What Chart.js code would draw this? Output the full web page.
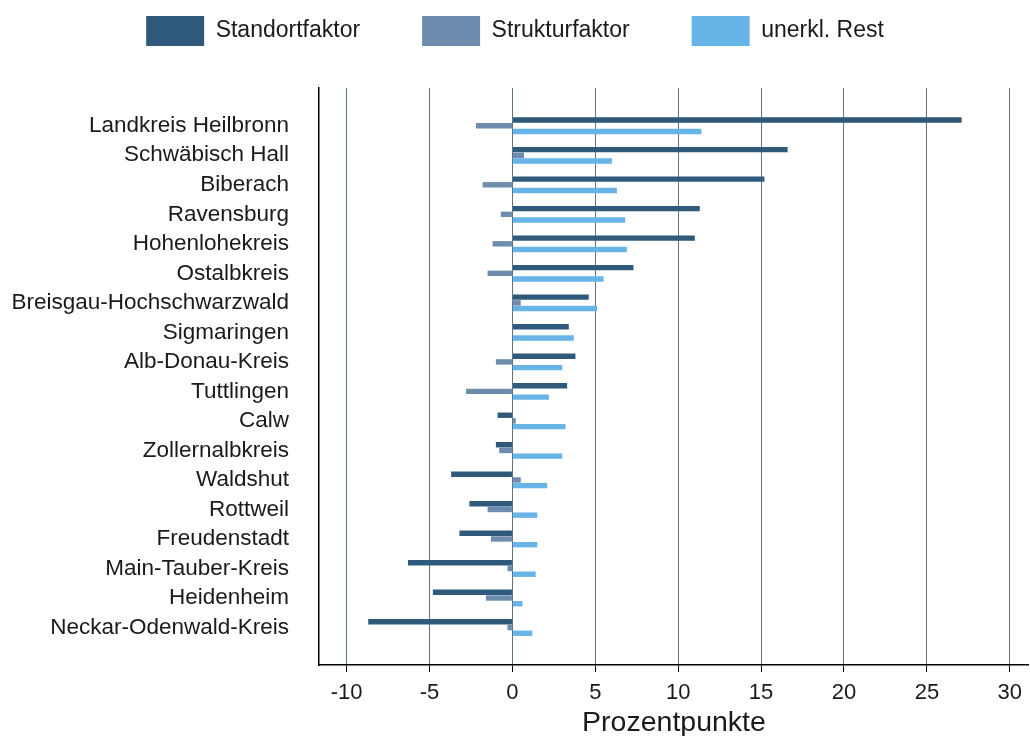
<!DOCTYPE html>
<html>
<head>
<meta charset="utf-8">
<script src="https://cdn.jsdelivr.net/npm/chart.js@4"></script>
<style>
    html, body { margin: 0; padding: 0; background: #fff; }
    #wrap { width: 1030px; height: 736px; }
</style>
</head>
<body>
<div id="wrap"><canvas id="factorChart" width="1030" height="736"></canvas></div>
<script>
// Kreise, von oben nach unten
const regions = [
    'Landkreis Heilbronn', 'Schwäbisch Hall', 'Biberach', 'Ravensburg', 'Hohenlohekreis',
    'Ostalbkreis', 'Breisgau-Hochschwarzwald', 'Sigmaringen', 'Alb-Donau-Kreis', 'Tuttlingen',
    'Calw', 'Zollernalbkreis', 'Waldshut', 'Rottweil', 'Freudenstadt',
    'Main-Tauber-Kreis', 'Heidenheim', 'Neckar-Odenwald-Kreis'
];
const standortfaktor = [27.1, 16.6, 15.2, 11.3, 11.0, 7.3, 4.6, 3.4, 3.8, 3.3, -0.9, -1.0, -3.7, -2.6, -3.2, -6.3, -4.8, -8.7];
const strukturfaktor = [-2.2, 0.7, -1.8, -0.7, -1.2, -1.5, 0.5, 0.0, -1.0, -2.8, 0.2, -0.8, 0.5, -1.5, -1.3, -0.3, -1.6, -0.3];
const unerklRest = [11.4, 6.0, 6.3, 6.8, 6.9, 5.5, 5.1, 3.7, 3.0, 2.2, 3.2, 3.0, 2.1, 1.5, 1.5, 1.4, 0.6, 1.2];
const xTicks = [-10, -5, 0, 5, 10, 15, 20, 25, 30];

const fontFamily = '"Liberation Sans", Arial, sans-serif';
const textColor = '#1a1a1a';

function toPoints(values) {
    return values.map((v, i) => ({x: v, y: i}));
}

// Abstand zwischen Legende und Diagramm
const legendGap = {
    id: 'legendGap',
    afterInit(chart) {
        const fit = chart.legend.fit;
        chart.legend.fit = function () {
            fit.call(this);
            this.height += 32;
        };
    }
};

let ctx = document.getElementById('factorChart').getContext('2d');
let factorChart = new Chart(ctx, {
    type: 'bar',
    data: {
        datasets: [
            {label: 'Standortfaktor', data: toPoints(standortfaktor), backgroundColor: '#2f5a7b'},
            {label: 'Strukturfaktor', data: toPoints(strukturfaktor), backgroundColor: '#6d8cae'},
            {label: 'unerkl. Rest', data: toPoints(unerklRest), backgroundColor: '#67b4e8'}
        ]
    },
    plugins: [legendGap],
    options: {
        indexAxis: 'y',
        responsive: false,
        animation: false,
        categoryPercentage: 0.58,
        barPercentage: 0.95,
        layout: {padding: {top: -46, left: 0, right: 0, bottom: 0}},
        scales: {
            x: {
                type: 'linear',
                min: -11.67,
                max: 31.16,
                afterBuildTicks: function (scale) {
                    scale.ticks = xTicks.map(v => ({value: v}));
                },
                afterFit: function (scale) {
                    scale.height = 71;
                },
                grid: {
                    color: '#5c7688',
                    lineWidth: 1,
                    tickColor: '#000',
                    tickLength: 7
                },
                border: {display: true, color: '#000', width: 1.5},
                ticks: {
                    padding: 8,
                    color: textColor,
                    font: {family: fontFamily, size: 22}
                },
                title: {
                    display: true,
                    text: 'Prozentpunkte',
                    color: textColor,
                    padding: {top: 0, bottom: 0},
                    font: {family: fontFamily, size: 28.5, lineHeight: 0.9}
                }
            },
            y: {
                type: 'linear',
                reverse: true,
                offset: false,
                min: -1.28,
                max: 18.27,
                afterBuildTicks: function (scale) {
                    scale.ticks = regions.map((_, i) => ({value: i}));
                },
                afterFit: function (scale) {
                    scale.width = 319;
                },
                grid: {display: false, drawTicks: false},
                border: {display: true, color: '#000', width: 1.5},
                ticks: {
                    autoSkip: false,
                    padding: 30,
                    color: textColor,
                    font: {family: fontFamily, size: 22.5},
                    callback: function (value) {
                        return regions[value];
                    }
                }
            }
        },
        plugins: {
            legend: {
                position: 'top',
                labels: {
                    boxWidth: 58,
                    boxHeight: 30,
                    padding: 62,
                    color: textColor,
                    font: {family: fontFamily, size: 23}
                }
            },
            tooltip: {enabled: false}
        }
    }
});
</script>
</body>
</html>
